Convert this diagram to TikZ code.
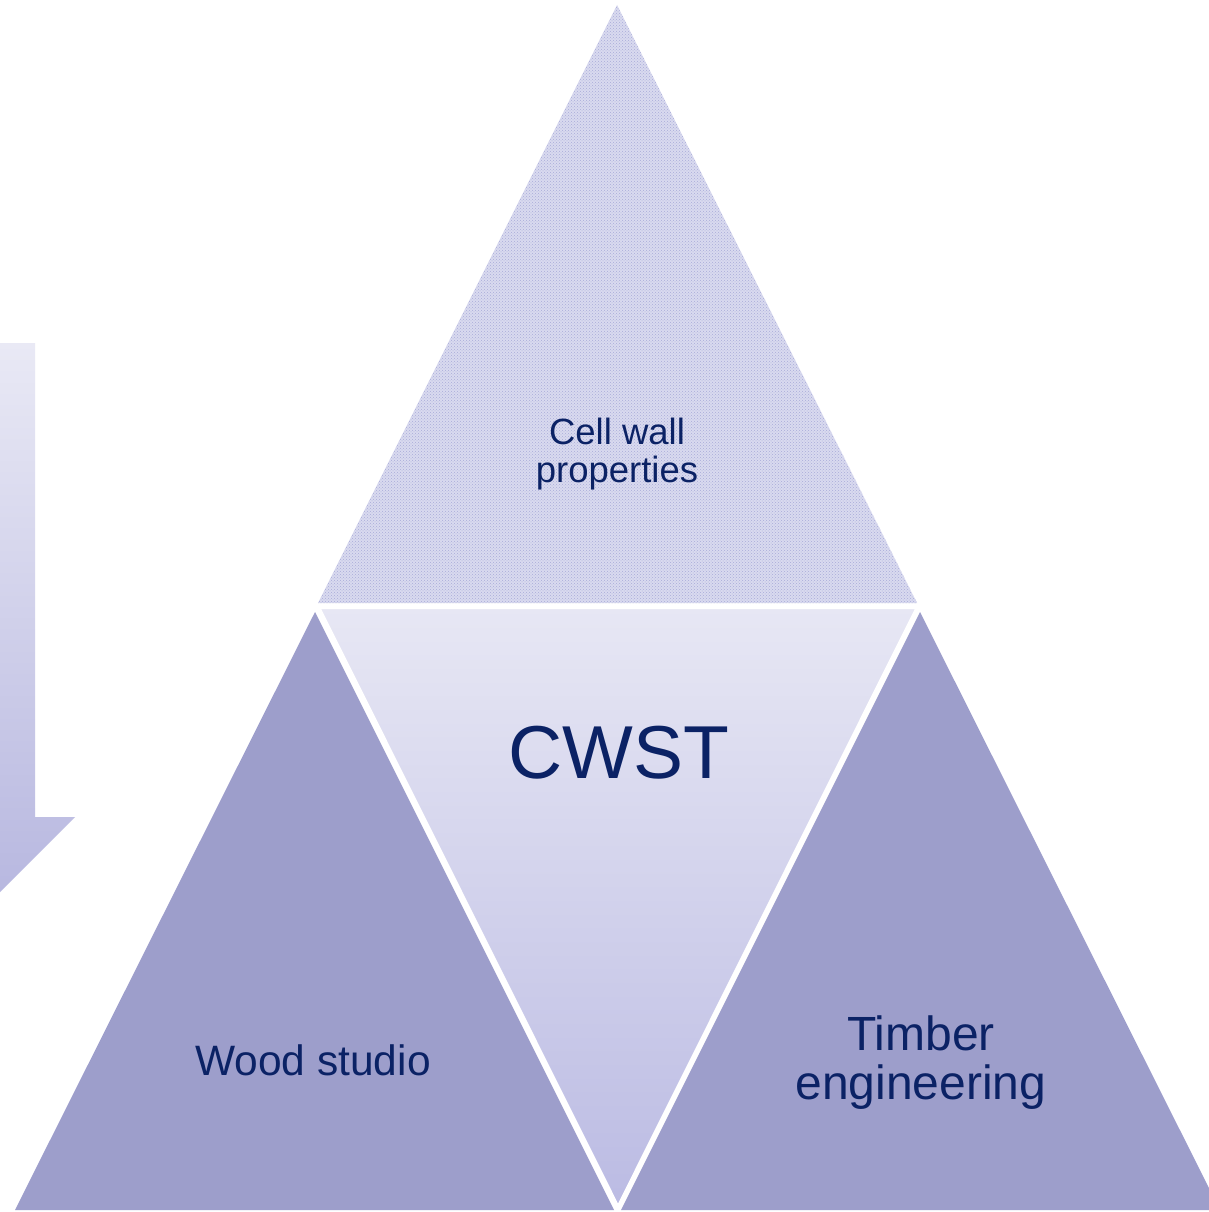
\documentclass[tikz,border=0pt]{standalone}
\usepackage{fontspec}
\setmainfont{Liberation Sans}
\usetikzlibrary{patterns}
\definecolor{navy}{HTML}{0B2265}
\definecolor{tri}{HTML}{9D9ECB}
\definecolor{midtop}{HTML}{E7E7F4}
\definecolor{midbot}{HTML}{BBBBE3}
\definecolor{toptri}{HTML}{D9DAEF}
\definecolor{topdot}{HTML}{A9ABD8}
\definecolor{arrtop}{HTML}{E9E9F5}
\definecolor{arrbot}{HTML}{B8B8E0}
\tikzset{
  lbl/.style={text=navy, align=center, inner sep=0pt},
}
\begin{document}
\begin{tikzpicture}[x=1pt,y=-1pt]
\clip (0,0) rectangle (1209,1212);
\fill[white] (0,0) rectangle (1209,1212);
% arrow
\shade[top color=arrtop, bottom color=arrbot]
  (-35,343) -- (35,343) -- (35,817) -- (75,817) -- (0,892) -- (-75,817) -- (-35,817) -- cycle;
% top triangle
\fill[toptri] (617,5) -- (917,603) -- (318,603) -- cycle;
\fill[pattern=crosshatch dots, pattern color=topdot] (617,5) -- (917,603) -- (318,603) -- cycle;
% left and right triangles
\fill[tri] (315,612) -- (614,1210) -- (15,1210) -- cycle;
\fill[tri] (920,612) -- (1220,1210) -- (621,1210) -- cycle;
% middle triangle
\shade[top color=midtop, bottom color=midbot] (318,607) -- (918,607) -- (618,1208) -- cycle;
\draw[white, line width=4pt, line join=miter] (318,607) -- (918,607) -- (618,1208) -- cycle;
% labels
\node[lbl, font=\fontsize{36.5}{38.5}\selectfont] (cell) at (617,454) {Cell wall\\properties};
\node[lbl, font=\fontsize{75}{80}\selectfont] (cwst) at (619,753) {CWST};
\node[lbl, font=\fontsize{42.5}{46}\selectfont] (wood) at (313,1060) {Wood studio};
\node[lbl, font=\fontsize{48}{49}\selectfont] (timber) at (921,1063) {Timber\\engineering};
\end{tikzpicture}
\end{document}
